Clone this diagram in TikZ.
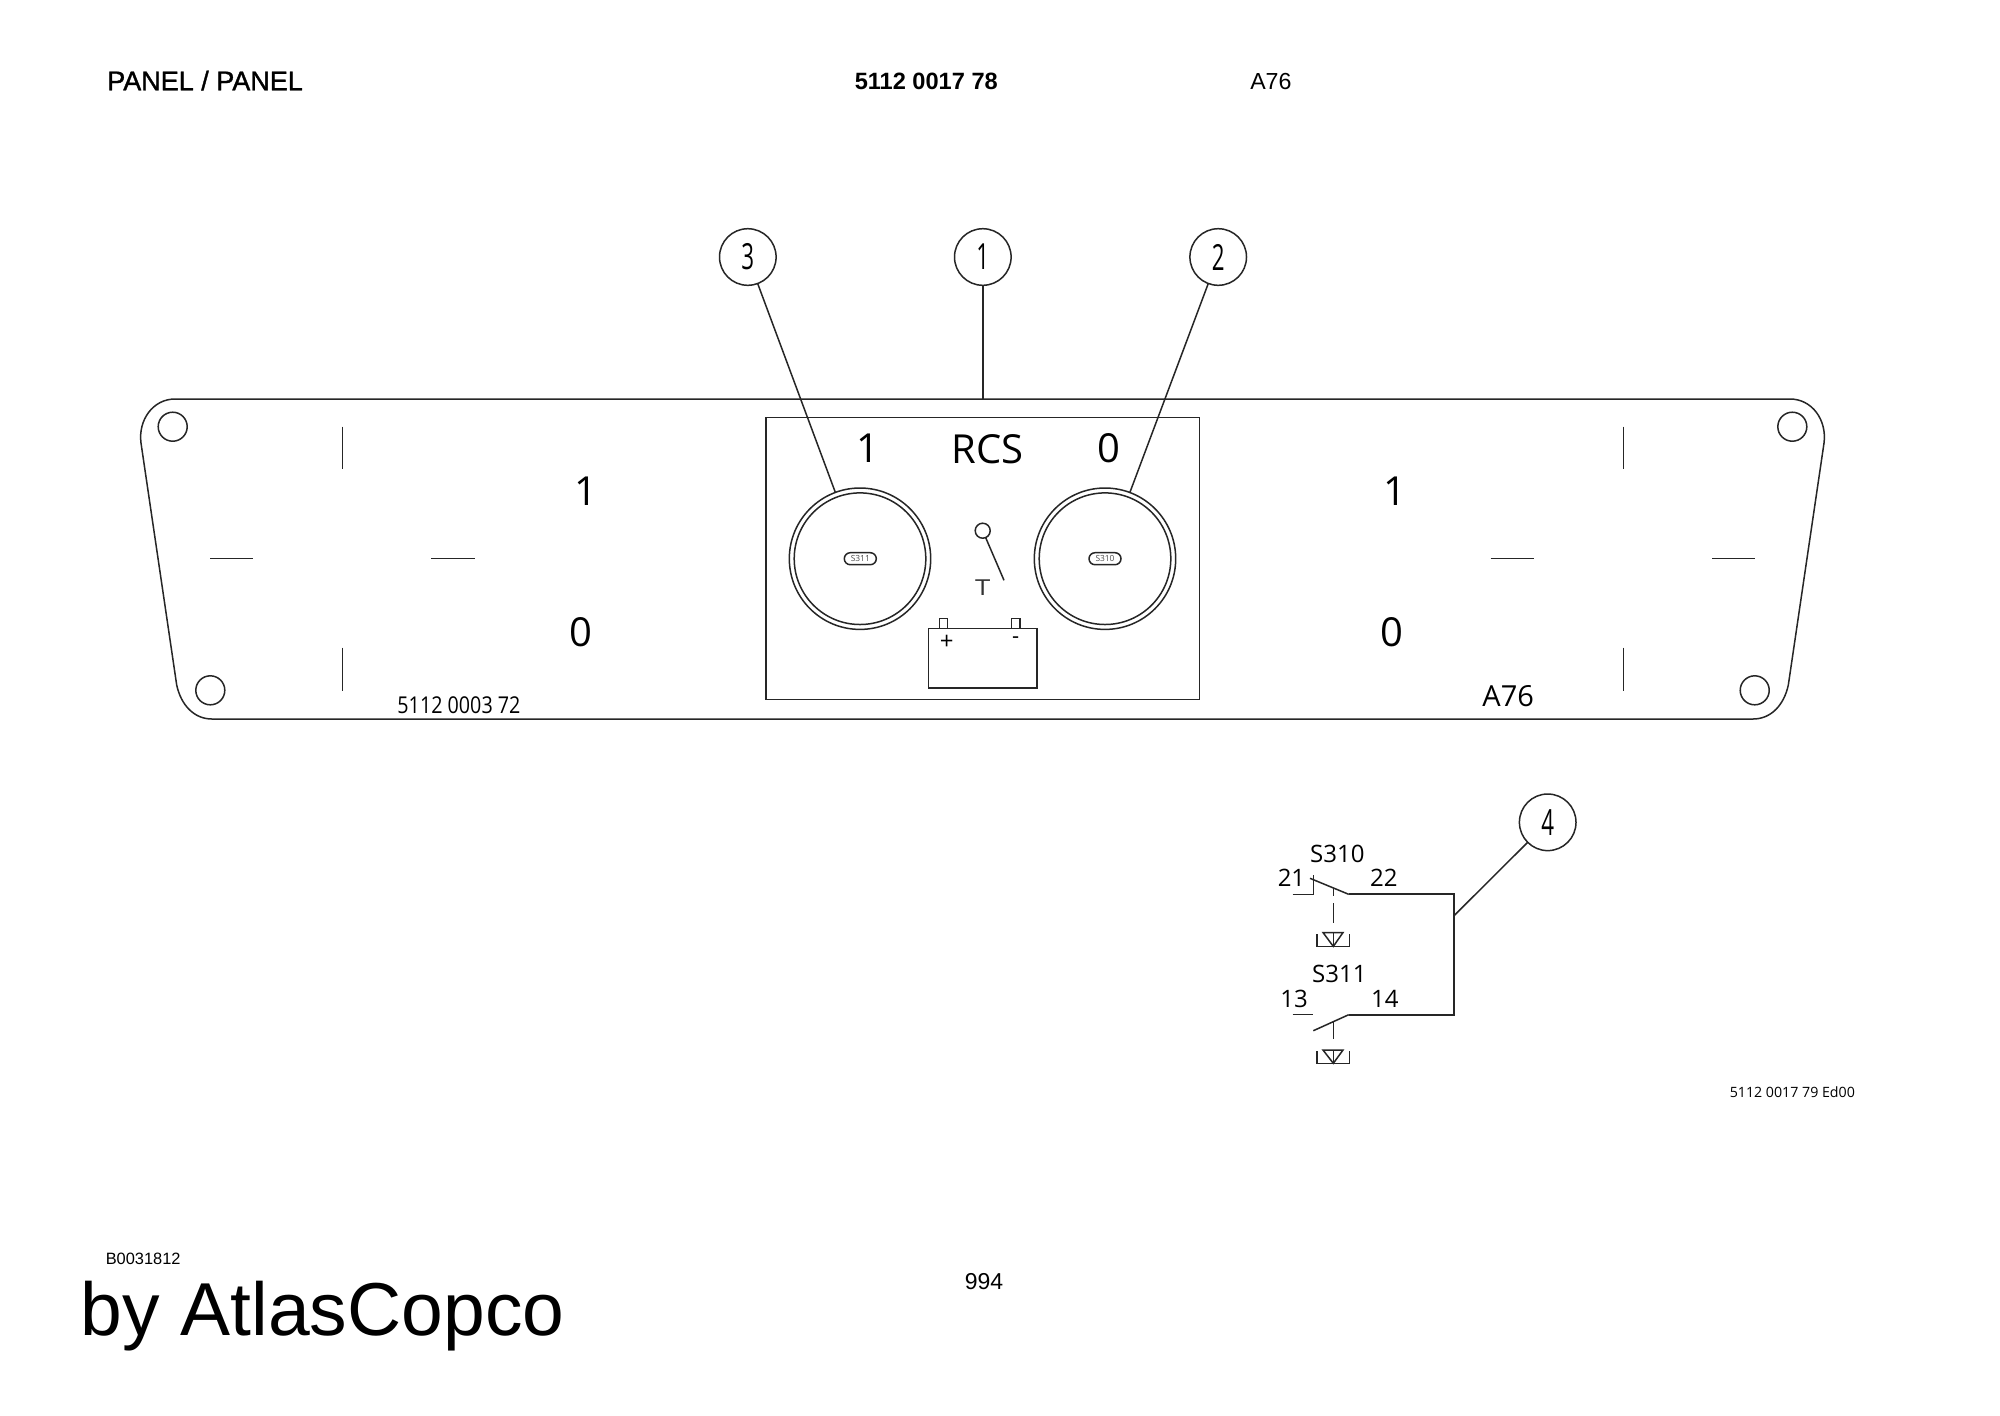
\documentclass[tikz,border=0pt]{standalone}
\usepackage{fontspec}
\setmainfont{Liberation Sans}
\newfontfamily\plateface{Open Sans}
\newfontfamily\headface[FakeBold=1.3]{Liberation Sans}
\newcommand{\nrw}[1]{\scalebox{.62}[1]{#1}}
\tikzset{
    lab/.style={inner sep=0pt, anchor=base west, text=black},
    platelab/.style={lab, font=\plateface\fontsize{20}{24}\selectfont},
    smalllab/.style={lab, font=\plateface\fontsize{11.6}{14}\selectfont},
    wirelab/.style={lab, font=\plateface\fontsize{12}{14}\selectfont},
    balloon/.style={circle, draw, inner sep=0pt, outer sep=0pt, minimum size=28.3pt, text=black, font=\plateface\fontsize{18}{20}\selectfont},
    knob/.style={circle, draw, inner sep=0pt, outer sep=0pt, minimum size=#1},
    hole/.style={circle, draw, inner sep=0pt, outer sep=0pt, minimum size=14.5pt},
    pill/.style={draw, rounded corners=3pt, inner sep=0pt, minimum width=16pt, minimum height=6pt, text=black!70, font=\plateface\fontsize{4.2}{5}\selectfont}
}

\begin{document}
\begin{tikzpicture}[x=.5pt, y=-.5pt, line width=.75pt, black!85]
    \useasboundingbox (0, 0) rectangle (2000, 1415);
    \fill[white] (0, 0) rectangle (2000, 1415);

    % page texts
    \node[lab, font=\headface\fontsize{13.5}{15}\selectfont] (title) at (106.5, 90.3){PANEL / PANEL};
    \node[lab, font=\bfseries\fontsize{11.8}{14}\selectfont] (partno) at (854, 89.3){5112 0017 78};
    \node[lab, font=\fontsize{11.6}{14}\selectfont] (code) at (1249.5, 89.3){A76};
    \node[lab, font=\fontsize{8.2}{10}\selectfont] (figno) at (105, 1264.8){B0031812};
    \node[lab, font=\fontsize{37.5}{42}\selectfont] (brand) at (80, 1335){by AtlasCopco};
    \node[lab, font=\fontsize{11.5}{14}\selectfont] (pageno) at (964, 1289){994};
    \node[lab, font=\plateface\fontsize{7.1}{9}\selectfont] (drawno) at (1729, 1097){5112 0017 79 Ed00};

    % plate
    \draw (175, 399) -- (1790, 399) .. controls (1812, 399) and (1827, 420) .. (1824, 443)
        -- (1788.3, 685) .. controls (1784, 705) and (1771, 719) .. (1753, 719)
        -- (212, 719) .. controls (194, 719) and (181, 705) .. (176.7, 685)
        -- (141, 443) .. controls (138, 420) and (153, 399) .. (175, 399) -- cycle;
    \coordinate (platetop) at (982.8, 399);
    \node[hole] (holeTL) at (172.7, 426.7){};
    \node[hole] (holeTR) at (1792.3, 426.7){};
    \node[hole] (holeBL) at (210.3, 690.3){};
    \node[hole] (holeBR) at (1754.7, 690.3){};

    % ticks
    \draw (342.3, 426.7) -- (342.3, 469.3);
    \draw (342.3, 647.7) -- (342.3, 690.7);
    \draw (210.3, 558.3) -- (253.3, 558.3);
    \draw (431.3, 558.3) -- (474.7, 558.3);
    \draw (1623.4, 426.7) -- (1623.4, 469.3);
    \draw (1623.4, 647.7) -- (1623.4, 690.7);
    \draw (1490.7, 558.3) -- (1534, 558.3);
    \draw (1712.3, 558.3) -- (1755.3, 558.3);

    \node[platelab] (oneL) at (574, 505){1};
    \node[platelab] (zeroL) at (569, 646.7){0};
    \node[platelab] (oneR) at (1383, 505){1};
    \node[platelab] (zeroR) at (1380, 646.7){0};
    \node[smalllab] (plateno) at (396.7, 713){\scalebox{.85}[1]{5112 0003 72}};
    \node[lab, font=\plateface\fontsize{14.5}{17}\selectfont] (platecode) at (1481.7, 706.7){A76};

    % inner box
    \draw[line width=.8pt] (766, 417.3) rectangle (1199.3, 699.6);
    \node[platelab] (one) at (855.5, 462.7){1};
    \node[platelab] (rcs) at (950.8, 463){RCS};
    \node[platelab] (zero) at (1097, 462.7){0};

    \node[knob=70.7pt] (knobL) at (860, 558.7){};
    \node[knob=65.8pt] (knobLin) at (860, 558.7){};
    \node[pill] (pillL) at (860.3, 558.7){S311};
    \node[knob=70.7pt] (knobR) at (1105, 558.7){};
    \node[knob=65.8pt] (knobRin) at (1105, 558.7){};
    \node[pill] (pillR) at (1105, 558.7){S310};

    % switch and battery signs
    \node[circle, draw, inner sep=0pt, outer sep=0pt, minimum size=7.5pt] (key) at (982.7, 530.7){};
    \draw (key) -- (1004, 580.3);
    \node[inner sep=0pt, anchor=base, text=black!80, font=\plateface\fontsize{11}{13}\selectfont] (tee) at (982.7, 595){\scalebox{1.25}[1]{T}};
    \draw (928.3, 628.3) rectangle (1037, 688);
    \draw (939.3, 628.3) |- (947.7, 618.7) -- (947.7, 628.3);
    \draw (1011.7, 628.3) |- (1020, 618.7) -- (1020, 628.3);
    \node[inner sep=0pt, anchor=base, text=black, font=\plateface\fontsize{12}{14}\selectfont] (plus) at (946.7, 649){+};
    \node[inner sep=0pt, anchor=base, text=black, font=\plateface\fontsize{11}{13}\selectfont] (minus) at (1015.7, 643.5){-};

    % balloons
    \node[balloon] (bal3) at (747.8, 257){\nrw{3}};
    \node[balloon] (bal1) at (982.8, 257){\nrw{1}};
    \node[balloon] (bal2) at (1218.2, 257){\nrw{2}};
    \node[balloon] (bal4) at (1547.7, 822.3){\nrw{4}};
    \draw (bal3) -- (knobL);
    \draw (bal1) -- (platetop);
    \draw (bal2) -- (knobR);
    \coordinate (wiretap) at (1454, 915.7);
    \draw (bal4) -- (wiretap);

    % circuit
    \draw[line width=.85pt] (1348.7, 894.3) -- (1453.7, 894.3) -- (1453.7, 1014.7) -- (1348.7, 1014.7);
    \draw (1292.7, 894.3) -- (1313.3, 894.3) -- (1313.3, 875);
    \draw (1310, 878.3) -- (1348.7, 894.3);
    \draw (1292.7, 1014.7) -- (1313.3, 1014.7);
    \draw (1313.3, 1030.7) -- (1348.7, 1014.7);
    \draw (1333.3, 888) -- (1333.3, 896);
    \draw (1333.3, 903) -- (1333.3, 922.5);
    \draw (1333.3, 1021.7) -- (1333.3, 1039.3);

    \draw (1317, 934) -- (1317, 946.4) -- (1349.3, 946.4) -- (1349.3, 934);
    \draw (1323, 932.5) -- (1343, 932.5) -- (1333.3, 946.4) -- cycle;
    \draw (1333.3, 932.5) -- (1333.3, 946.4);
    \draw (1317, 1051.3) -- (1317, 1063.3) -- (1349.3, 1063.3) -- (1349.3, 1051.3);
    \draw (1323, 1050) -- (1343, 1050) -- (1333.3, 1063.3) -- cycle;
    \draw (1333.3, 1050) -- (1333.3, 1063.3);

    \node[wirelab] (s310) at (1309.4, 862.3){S310};
    \node[wirelab] (t21) at (1277, 886.7){21};
    \node[wirelab] (t22) at (1369.4, 886.7){22};
    \node[wirelab] (s311) at (1311.4, 982.7){S311};
    \node[wirelab] (t13) at (1279.7, 1007){13};
    \node[wirelab] (t14) at (1370.4, 1007){14};
\end{tikzpicture}
\end{document}
